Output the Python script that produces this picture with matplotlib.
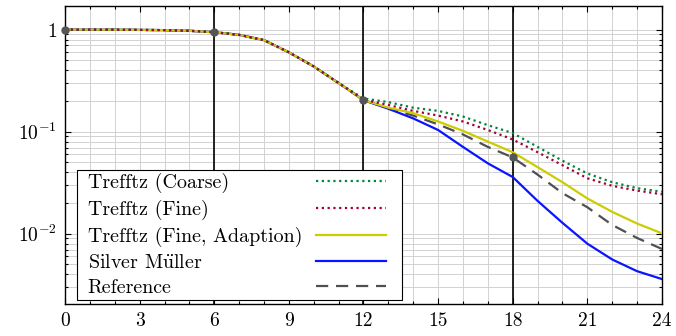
import matplotlib
matplotlib.use("Agg")
import matplotlib.pyplot as plt
from matplotlib.ticker import MultipleLocator, LogLocator, NullFormatter
from matplotlib.legend_handler import HandlerLine2D
from matplotlib.offsetbox import DrawingArea

plt.rcParams['font.family'] = ['cmr10', 'DejaVu Serif']
plt.rcParams['mathtext.fontset'] = 'cm'
plt.rcParams['axes.unicode_minus'] = False
plt.rcParams['font.size'] = 14

# time samples
t = list(range(25))

# all curves agree up to t = 12
common = [1.0, 1.0, 1.0, 0.995, 0.99, 0.975, 0.945, 0.89, 0.79, 0.60, 0.436, 0.30]

coarse = common + [0.212, 0.195, 0.172, 0.160, 0.141, 0.116, 0.097, 0.071, 0.052, 0.039, 0.032, 0.028, 0.0258]
fine = common + [0.206, 0.183, 0.160, 0.144, 0.126, 0.104, 0.084, 0.063, 0.047, 0.035, 0.0295, 0.0265, 0.0244]
adapt = common + [0.204, 0.172, 0.152, 0.126, 0.102, 0.080, 0.063, 0.045, 0.032, 0.0222, 0.0164, 0.0126, 0.0101]
silver = common + [0.204, 0.168, 0.135, 0.104, 0.071, 0.049, 0.036, 0.021, 0.0128, 0.0080, 0.0056, 0.0043, 0.0036]
reference = common + [0.204, 0.170, 0.144, 0.118, 0.094, 0.071, 0.056, 0.038, 0.025, 0.0182, 0.0122, 0.0091, 0.0071]

# snapshot times marked on the reference curve
snap_t = [0, 6, 12, 18]
snap_v = [reference[i] for i in snap_t]

labels = ['Trefftz (Coarse)', 'Trefftz (Fine)', 'Trefftz (Fine, Adaption)',
          r'Silver M$\ddot{\mathrm{u}}$ller', 'Reference']

fig = plt.figure(figsize=(6.76, 3.36), dpi=100)
ax = fig.add_axes([0.0962, 0.0952, 0.883, 0.888])

lw = 1.6
dots = (0, (1, 1.6))
h_ref, = ax.plot(t, reference, color='#505050', lw=lw, ls=(0, (5.5, 3.5)), zorder=4)
h_sil, = ax.plot(t, silver, color='#0a14ff', lw=lw, zorder=5)
h_ada, = ax.plot(t, adapt, color='#cccc00', lw=lw, zorder=6)
h_coa, = ax.plot(t, coarse, color='#00853e', lw=lw, ls=dots, zorder=7)
h_fin, = ax.plot(t, fine, color='#a3003a', lw=lw, ls=dots, zorder=8)
ax.plot(snap_t, snap_v, 'o', color='#555555', ms=5, zorder=10, clip_on=False)

for x in [6, 12, 18]:
    ax.axvline(x, color='black', lw=1.2, zorder=3)

ax.set_yscale('log')
ax.set_xlim(0, 24)
ax.set_ylim(2.05e-3, 1.72)

ax.xaxis.set_major_locator(MultipleLocator(3))
ax.xaxis.set_minor_locator(MultipleLocator(1))
ax.set_yticks([1e-2, 1e-1, 1], [r'$10^{-2}$', r'$10^{-1}$', r'$1$'])
ax.yaxis.set_minor_locator(LogLocator(base=10, subs=range(2, 10)))
ax.yaxis.set_minor_formatter(NullFormatter())

ax.grid(True, which='both', color='#d2d2d2', lw=0.7, zorder=0)
ax.set_axisbelow(True)
ax.tick_params(which='both', direction='in', top=True, right=True, width=0.8)
ax.tick_params(which='major', length=4, labelsize=14, pad=6)
ax.tick_params(which='minor', length=2.5)
for s in ax.spines.values():
    s.set_linewidth(1.0)

# sample lines drawn shorter than their box, leaves room on the right
hl = HandlerLine2D(numpoints=2, marker_pad=0.65)
leg = ax.legend([h_coa, h_fin, h_ada, h_sil, h_ref], labels, loc='lower left',
                bbox_to_anchor=(0.02, 0.013), borderaxespad=0, markerfirst=False,
                handlelength=4.8, handletextpad=0.05, labelspacing=0.35,
                borderpad=0.15, fancybox=False, framealpha=1, edgecolor='black',
                fontsize=14.4, handler_map={h: hl for h in [h_coa, h_fin, h_ada, h_sil, h_ref]})
leg.get_frame().set_linewidth(0.8)
leg.set_zorder(20)

# labels left aligned, samples in one column on the right
renderer = fig.canvas.get_renderer()
hbox = leg._legend_handle_box
rows = hbox.get_children()[0].get_children()
row_w = max(r.get_bbox(renderer).width for r in rows)
for r in rows:
    r.mode = 'expand'
    r.width = row_w
# a little extra room left of the labels
spacer = DrawingArea(5.5, 1)
hbox.sep = 0
hbox._children.insert(0, spacer)
spacer.set_figure(fig)

fig.savefig('out.png', dpi=100)
